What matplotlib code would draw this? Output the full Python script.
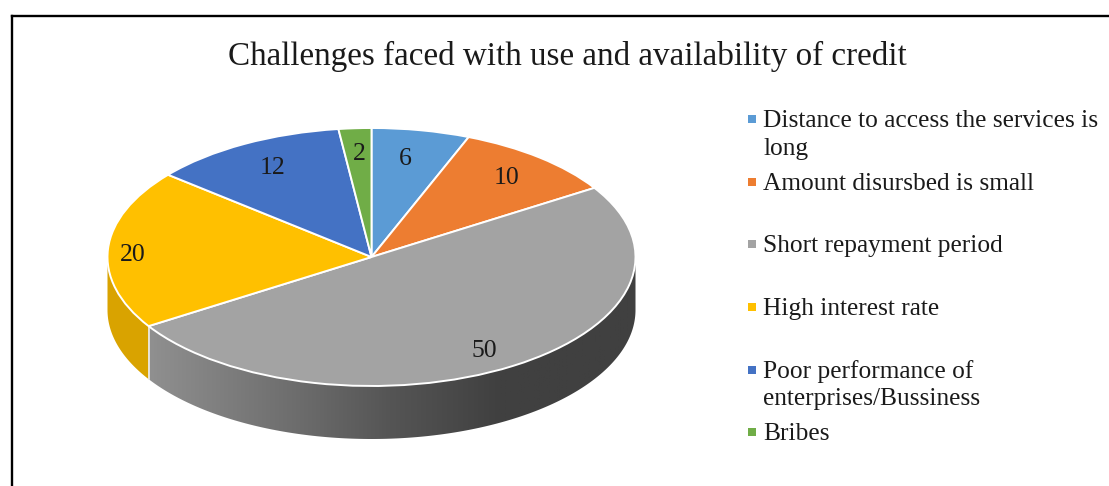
import numpy as np
import matplotlib
matplotlib.use("Agg")
import matplotlib.pyplot as plt
from matplotlib.patches import Rectangle, Polygon
from matplotlib.colors import LinearSegmentedColormap

title = "Challenges faced with use and availability of credit"
categories = ["Distance to access the services is\nlong", "Amount disursbed is small",
              "Short repayment period", "High interest rate",
              "Poor performance of\nenterprises/Bussiness", "Bribes"]
values = [6, 10, 50, 20, 12, 2]
colors = ["#5B9BD5", "#ED7D31", "#A3A3A3", "#FFC000", "#4472C4", "#70AD47"]
W, H = 1109, 486
CX, CY, RX, RY, DEPTH = 371.5, 257, 264, 129, 53

plt.rcParams["font.family"] = ["Liberation Serif", "DejaVu Serif"]
fig = plt.figure(figsize=(W / 100, H / 100), dpi=100, facecolor="white")
ax = fig.add_axes([0, 0, 1, 1])
ax.pie(values, colors=colors, startangle=90, counterclock=False,
       wedgeprops=dict(edgecolor="white", linewidth=1.4))
for w in ax.patches:
    w.set_zorder(3)
px = lambda x: (x - CX) / RX
py = lambda y: (CY - y) / RY

fracs = np.cumsum([0] + values) / sum(values) * 360
depth = DEPTH / RY

def wall_polygon(a0, a1, n=200):
    t = np.radians(np.linspace(a0, a1, n))
    x, y = np.sin(t), np.cos(t)
    return np.column_stack([np.r_[x, x[::-1]], np.r_[y, y[::-1] - depth]])

# grey wall: horizontal gradient clipped to the wall outline
stops_x = [148, 300, 390, 500, 636]
stops_v = [0x90, 0x6c, 0x55, 0x40, 0x40]
cmap = LinearSegmentedColormap.from_list(
    "wall", [((x - 148) / (636 - 148), (v / 255,) * 3) for x, v in zip(stops_x, stops_v)])
gray_poly = Polygon(wall_polygon(90, fracs[3]), closed=True, facecolor="none", edgecolor="none",
                    transform=ax.transData)
ax.add_patch(gray_poly)
im = ax.imshow(np.linspace(0, 1, 512)[None, :], cmap=cmap, aspect="auto", zorder=1,
               extent=(px(148), px(636), py(445), py(255)))
im.set_clip_path(gray_poly)
ax.add_patch(Polygon(wall_polygon(fracs[3], 270, 80), closed=True, facecolor="#D9A300",
                     edgecolor="none", zorder=1))
seam = np.radians(fracs[3])
ax.plot([np.sin(seam)] * 2, [np.cos(seam), np.cos(seam) - depth], color="#EDEDED", lw=1.2, zorder=2)

ax.set_aspect("auto")
ax.set_xlim(px(0), px(W))
ax.set_ylim(py(H), py(0))
ax.axis("off")

label_pos = [(405, 159), (507, 178), (484, 351), (133, 255), (273, 168), (359, 154)]
for v, (x, y) in zip(values, label_pos):
    ax.text(px(x), py(y), str(v), fontsize=18.5, color="#1a1a1a", ha="center", va="center", zorder=5)

ax.text(px(567.5), py(56.5), title, fontsize=23.9, color="#1a1a1a", ha="center", va="center")

legend_y = [135, 184, 246, 309, 385, 434]
square_y = [119.5, 182, 244.5, 307, 369.5, 432]
for c, lab, y, sy in zip(colors, categories, legend_y, square_y):
    ax.add_patch(Rectangle((px(747.5), py(sy + 4)), 8 / RX, 8 / RY, facecolor=c, edgecolor="none", zorder=4))
    ax.text(px(763), py(y), lab, fontsize=18.3, color="#1a1a1a", ha="left", va="center",
            linespacing=1.3, zorder=5)

# outer frame: only left and top edges fall inside the picture
ax.plot([px(11.5), px(11.5)], [py(H), py(16)], color="black", lw=1.7, zorder=6, solid_capstyle="projecting")
ax.plot([px(11.5), px(W)], [py(16), py(16)], color="black", lw=1.7, zorder=6)

fig.savefig("out.png", dpi=100)
